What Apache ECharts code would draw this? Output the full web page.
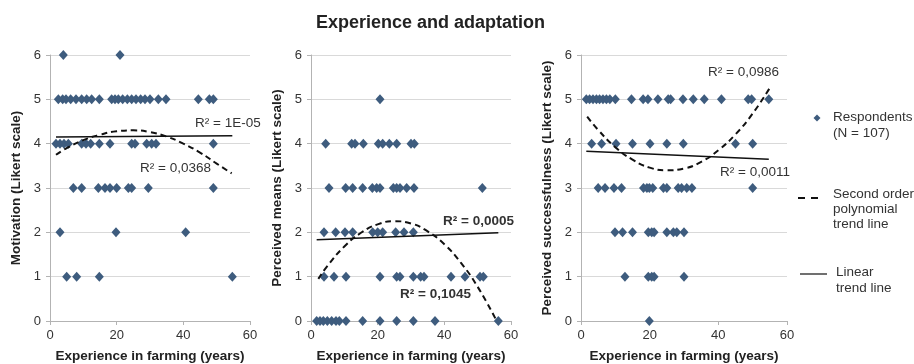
<!DOCTYPE html>
<html><head><meta charset="utf-8">
<script src="https://cdn.jsdelivr.net/npm/echarts@6/dist/echarts.min.js"></script>
<style>html,body{margin:0;padding:0;background:#fff}#c{width:914px;height:364px}</style>
</head><body><div id="c"></div>
<script>
// ---- tick labels ----
const xTickLabels = [0, 20, 40, 60];
const yTickLabels = [0, 1, 2, 3, 4, 5, 6];

// ---- respondents: [score, years...] ----
const motivationRows = [
  [6, [4, 21]],
  [5, [2.5, 3.8, 4.8, 6.2, 7.8, 9.5, 11, 12.5, 14.8, 18.5, 19.5, 20.5, 21.8, 23.2, 24.5, 25.8, 27.2, 28.5, 30, 32.5, 34.8, 44.5, 47.8, 49]],
  [4, [1.8, 3, 4.2, 5.5, 9.5, 10.8, 12.2, 14.8, 18, 24.5, 25.5, 29, 30.5, 31.8, 49]],
  [3, [7, 9.5, 14.5, 16.5, 18, 20, 23.5, 24.5, 29.5, 49]],
  [2, [3, 19.8, 40.7]],
  [1, [5, 8, 14.8, 54.7]]
];
const meansRows = [
  [5, [20.7]],
  [4, [4.4, 12.2, 13.2, 15.7, 20.2, 21.5, 23.5, 25.7, 30, 31]],
  [3, [5.4, 10.4, 12.5, 15.5, 18.4, 19.7, 20.7, 24.7, 25.7, 26.7, 28.7, 30.9, 51.4]],
  [2, [3.9, 7.4, 10.2, 12.5, 18.5, 20, 21.5, 25.4, 27.9, 30.7]],
  [1, [3.9, 6.9, 10.5, 20.7, 25.7, 26.7, 30.7, 32.9, 33.9, 42, 46.2, 50.7, 51.7]],
  [0, [1.7, 2.7, 3.7, 4.9, 6.2, 7.5, 8.5, 10.5, 15.5, 20.7, 25.7, 30.7, 37.2, 56.2]]
];
const successRows = [
  [5, [1.55, 2.5, 3.5, 4.5, 5.4, 6.4, 7.4, 8.4, 10, 14.7, 18.1, 19.5, 22.4, 25.4, 26.1, 29.7, 32.7, 35.9, 40.9, 48.7, 49.7, 54.7]],
  [4, [3.1, 6, 10.2, 15, 20.1, 25, 29.8, 45, 50]],
  [3, [5, 7, 9.6, 11.8, 18.2, 19.2, 19.9, 20.9, 24, 25, 28.3, 29.3, 30.8, 32.3, 50]],
  [2, [9.9, 12.1, 15, 19.6, 20.6, 21.3, 25, 26.9, 27.9, 30]],
  [1, [12.8, 19.6, 20.6, 21.3, 30]],
  [0, [19.9]]
];

// ---- trend lines ----
const motivationLinear = [[1.8, 4.15], [54.7, 4.18]];
const motivationPoly = [[1.8, 3.75], [5, 3.9], [10, 4.08], [15, 4.2], [20, 4.28], [25, 4.3], [30, 4.26], [35, 4.16], [40, 4.0], [45, 3.8], [50, 3.55], [54.5, 3.33]];
const meansLinear = [[1.7, 1.83], [56.2, 1.99]];
const meansPoly = [[2.2, 0.95], [5, 1.25], [10, 1.68], [15, 1.99], [20, 2.18], [25, 2.25], [30, 2.2], [35, 2.02], [40, 1.73], [45, 1.31], [50, 0.77], [55.7, 0.0]];
const successLinear = [[1.55, 3.83], [54.7, 3.65]];
const successPoly = [[1.8, 4.61], [5, 4.31], [10, 3.92], [15, 3.64], [20, 3.46], [25, 3.4], [30, 3.44], [35, 3.59], [40, 3.85], [45, 4.21], [50, 4.68], [55, 5.26]];

// ---- R² texts ----
const motivationR2 = ['R\u00b2 = 1E-05', 'R\u00b2 = 0,0368'];   // linear, poly
const meansR2 = ['R\u00b2 = 0,0005', 'R\u00b2 = 0,1045'];
const successR2 = ['R\u00b2 = 0,0011', 'R\u00b2 = 0,0986'];

const titleText = 'Experience and adaptation';
const xName = 'Experience in farming (years)';
const yNames = ['Motivation (Likert scale)', 'Perceived means (Likert scale)', 'Perceived successfulness (Likert scale)'];
const legendTexts = ['Respondents\n(N = 107)', 'Second order\npolynomial\ntrend line', 'Linear\ntrend line'];

// ---- layout / styles ----
const FONT = 'Liberation Sans, Arial, sans-serif';
const MARK = '#3e5c7e';
const panels = [
  { rows: motivationRows, lin: motivationLinear, poly: motivationPoly, r2: motivationR2,
    linPos: [43.5, 4.47], polyPos: [27, 3.45], bold: false, left: 50, width: 200 },
  { rows: meansRows, lin: meansLinear, poly: meansPoly, r2: meansR2,
    linPos: [39.6, 2.26], polyPos: [26.7, 0.61], bold: true, left: 311, width: 200 },
  { rows: successRows, lin: successLinear, poly: successPoly, r2: successR2,
    linPos: [40.5, 3.36], polyPos: [37, 5.62], bold: false, left: 581, width: 206 }
];
const toPoints = rows => rows.flatMap(([s, xs]) => xs.map(x => [x, s]));

const grid = [], xAxis = [], yAxis = [], series = [];
panels.forEach((p, i) => {
  grid.push({ left: p.left, width: p.width, top: 55, height: 266, containLabel: false, outerBoundsMode: 'none' });
  xAxis.push({
    gridIndex: i, type: 'value', min: xTickLabels[0], max: xTickLabels[xTickLabels.length - 1],
    interval: xTickLabels[1] - xTickLabels[0],
    name: xName, nameLocation: 'middle', nameGap: 28,
    nameTextStyle: { fontFamily: FONT, fontSize: 13.5, fontWeight: 'bold', color: '#222' },
    axisLine: { lineStyle: { color: '#b3b3b3' } },
    axisTick: { show: true, length: 4, lineStyle: { color: '#b3b3b3' } },
    axisLabel: { fontFamily: FONT, fontSize: 13, color: '#333', margin: 8 },
    splitLine: { show: false }
  });
  yAxis.push({
    gridIndex: i, type: 'value', min: yTickLabels[0], max: yTickLabels[yTickLabels.length - 1], interval: 1,
    name: yNames[i], nameLocation: 'middle', nameGap: 27, nameRotate: 90,
    nameTextStyle: { fontFamily: FONT, fontSize: 13.5, fontWeight: 'bold', color: '#222' },
    axisLine: { show: true, lineStyle: { color: '#b3b3b3' } },
    axisTick: { show: true, length: 4, lineStyle: { color: '#b3b3b3' } },
    axisLabel: { fontFamily: FONT, fontSize: 13, color: '#333', margin: 9 },
    splitLine: { show: true, lineStyle: { color: '#d9d9d9', width: 1 } }
  });
  const lbl = (t) => ({ show: true, position: 'right', distance: 0, formatter: t,
    fontFamily: FONT, fontSize: 13.5, color: '#333', fontWeight: p.bold ? 'bold' : 'normal' });
  series.push({
    type: 'scatter', name: 'Respondents (N = 107)', xAxisIndex: i, yAxisIndex: i,
    data: toPoints(p.rows), symbol: 'diamond', symbolSize: [9, 10],
    itemStyle: { color: MARK, opacity: 1 }, z: 3
  });
  series.push({
    type: 'line', name: 'Linear trend line', xAxisIndex: i, yAxisIndex: i, data: p.lin,
    showSymbol: false, symbol: 'none', lineStyle: { color: '#111', width: 1.5 }, z: 4,
    markPoint: { symbol: 'rect', symbolSize: 0, silent: true, label: lbl(p.r2[0]),
      data: [{ coord: p.linPos }] }
  });
  series.push({
    type: 'line', name: 'Second order polynomial trend line', xAxisIndex: i, yAxisIndex: i, data: p.poly,
    smooth: true, showSymbol: false, symbol: 'none', lineStyle: { color: '#111', width: 2, type: [6, 4] }, z: 4,
    markPoint: { symbol: 'rect', symbolSize: 0, silent: true, label: lbl(p.r2[1]),
      data: [{ coord: p.polyPos }] }
  });
});

const legendFont = '13.5px ' + FONT;
const graphic = [
  { type: 'polygon', shape: { points: [[817, 114.5], [820.5, 118], [817, 121.5], [813.5, 118]] }, style: { fill: MARK } },
  { type: 'text', x: 833, y: 110, style: { text: legendTexts[0], font: legendFont, fill: '#333', lineHeight: 15.5 } },
  { type: 'line', shape: { x1: 798, y1: 198, x2: 821, y2: 198 }, style: { stroke: '#111', lineWidth: 2, lineDash: [7, 6] } },
  { type: 'text', x: 833, y: 187, style: { text: legendTexts[1], font: legendFont, fill: '#333', lineHeight: 14.8 } },
  { type: 'line', shape: { x1: 800, y1: 274, x2: 827, y2: 274 }, style: { stroke: '#111', lineWidth: 1.2 } },
  { type: 'text', x: 836, y: 265, style: { text: legendTexts[2], font: legendFont, fill: '#333', lineHeight: 15.5 } }
];

const chart = echarts.init(document.getElementById('c'), null, { renderer: 'canvas' });
chart.setOption({
  animation: false,
  backgroundColor: '#fff',
  title: { text: titleText, left: 311, top: 9,
    textStyle: { fontFamily: FONT, fontSize: 18, fontWeight: 'bold', color: '#222' } },
  grid, xAxis, yAxis, series, graphic
});
</script>
</body></html>
